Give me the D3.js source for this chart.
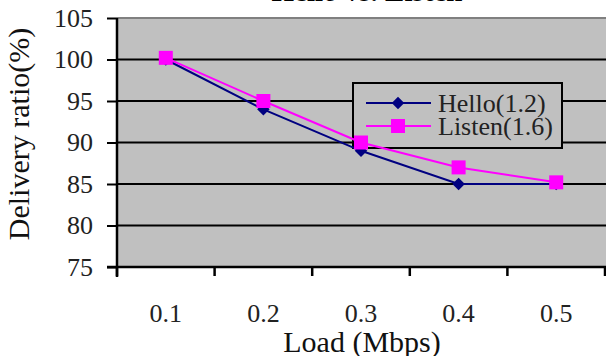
<!DOCTYPE html>
<html lang="en">
<head>
<meta charset="UTF-8">
<title>Hello vs. Listen</title>
<script src="https://cdn.jsdelivr.net/npm/d3@7"></script>
<style>
    body { margin: 0; background: #fff; }
    svg { display: block; }
</style>
</head>
<body>
<div id="chart"></div>
<script>
    // data
    var loads = ["0.1", "0.2", "0.3", "0.4", "0.5"];
    var hello = [100, 94, 89, 85, 85];
    var listen = [100.2, 95, 90, 87, 85.2];
    var yTicks = [75, 80, 85, 90, 95, 100, 105];
    var seriesNames = ["Hello(1.2)", "Listen(1.6)"];

    var FONT = "'Liberation Serif', Tinos, 'Times New Roman', Times, 'DejaVu Serif', serif";
    var W = 606, H = 356;
    var plotLeft = 117, plotRight = 605, plotTop = 18, plotBottom = 267;

    var svg = d3.select("#chart").append("svg")
        .attr("width", W)
        .attr("height", H)
        .style("font-family", FONT);

    var x = d3.scaleBand().domain(loads).range([plotLeft, plotRight]);
    var y = d3.scaleLinear().domain([75, 105]).range([plotBottom, plotTop]);

    // plot background
    svg.append("rect")
        .attr("x", plotLeft).attr("y", plotTop)
        .attr("width", W - plotLeft).attr("height", plotBottom - plotTop)
        .attr("fill", "#c0c0c0");

    // gridlines
    svg.append("g").selectAll("line")
        .data(yTicks.filter(function (d) { return d > 75; }))
        .enter().append("line")
        .attr("x1", plotLeft).attr("x2", W)
        .attr("y1", function (d) { return y(d); })
        .attr("y2", function (d) { return y(d); })
        .attr("stroke", function (d) { return d == 105 ? "#808080" : "#000"; })
        .attr("stroke-width", 2);

    // y axis
    var yAxis = svg.append("g")
        .attr("transform", "translate(" + plotLeft + ",0)")
        .call(d3.axisLeft(y).tickValues(yTicks).tickSize(10).tickPadding(14));
    yAxis.attr("font-family", null);
    yAxis.select(".domain").attr("stroke", "#000").attr("stroke-width", 2.5)
        .attr("d", "M0," + plotTop + "V" + (plotBottom + 10));
    yAxis.selectAll(".tick line").attr("stroke", "#000").attr("stroke-width", 2);
    yAxis.selectAll(".tick text")
        .style("font-family", FONT).attr("font-size", 26).attr("fill", "#222");

    // x axis, ticks on the band edges
    var xAxis = svg.append("g")
        .attr("transform", "translate(0," + plotBottom + ")")
        .call(d3.axisBottom(x).tickSize(0).tickPadding(37));
    xAxis.attr("font-family", null);
    xAxis.select(".domain").attr("stroke", "#000").attr("stroke-width", 2.5)
        .attr("d", "M" + (plotLeft - 10) + ",0H" + W);
    xAxis.selectAll(".tick text")
        .style("font-family", FONT).attr("font-size", 26).attr("fill", "#222");
    xAxis.selectAll(".edge")
        .data(loads.concat(["end"]))
        .enter().append("line")
        .attr("x1", function (d, i) { return plotLeft + i * x.step(); })
        .attr("x2", function (d, i) { return plotLeft + i * x.step(); })
        .attr("y1", 0).attr("y2", 9)
        .attr("stroke", "#000").attr("stroke-width", 2.5);

    // legend box (sits over the gridlines)
    var lg = svg.append("g").attr("transform", "translate(353,83)");
    lg.append("rect")
        .attr("width", 209).attr("height", 65)
        .attr("fill", "#c0c0c0").attr("stroke", "#000").attr("stroke-width", 2);

    // lines
    var line = d3.line()
        .x(function (d, i) { return x(loads[i]) + x.bandwidth() / 2; })
        .y(function (d) { return y(d); });

    svg.append("path").datum(hello)
        .attr("d", line).attr("fill", "none")
        .attr("stroke", "#000080").attr("stroke-width", 2);
    svg.append("path").datum(listen)
        .attr("d", line).attr("fill", "none")
        .attr("stroke", "#ff00ff").attr("stroke-width", 2);

    var diamond = d3.symbol().type(d3.symbolDiamond2).size(100);

    svg.append("g").selectAll("path")
        .data(hello).enter().append("path")
        .attr("d", diamond)
        .attr("transform", function (d, i) {
            return "translate(" + (x(loads[i]) + x.bandwidth() / 2) + "," + y(d) + ")";
        })
        .attr("fill", "#000080");

    svg.append("g").selectAll("rect")
        .data(listen).enter().append("rect")
        .attr("x", function (d, i) { return x(loads[i]) + x.bandwidth() / 2 - 7; })
        .attr("y", function (d) { return y(d) - 7; })
        .attr("width", 14).attr("height", 14)
        .attr("fill", "#ff00ff");

    // legend entries
    var colors = ["#000080", "#ff00ff"];
    seriesNames.forEach(function (name, i) {
        var gy = 20 + i * 23;
        lg.append("line")
            .attr("x1", 13).attr("x2", 78)
            .attr("y1", gy).attr("y2", gy)
            .attr("stroke", colors[i]).attr("stroke-width", 2);
        if (i == 0) {
            lg.append("path").attr("d", diamond)
                .attr("transform", "translate(45," + gy + ")")
                .attr("fill", colors[i]);
        } else {
            lg.append("rect")
                .attr("x", 38).attr("y", gy - 7)
                .attr("width", 14).attr("height", 14)
                .attr("fill", colors[i]);
        }
        lg.append("text")
            .attr("x", 85).attr("y", gy + 9)
            .attr("font-size", 26).attr("fill", "#222")
            .text(name);
    });

    // titles (the chart title is cut off by the top edge, as in the original)
    svg.append("text")
        .attr("x", 367).attr("y", 1)
        .attr("text-anchor", "middle")
        .attr("font-size", 29).attr("font-weight", "bold")
        .text("Hello vs. Listen");

    svg.append("text")
        .attr("x", 362).attr("y", 352)
        .attr("text-anchor", "middle")
        .attr("font-size", 30).attr("fill", "#111")
        .text("Load (Mbps)");

    svg.append("text")
        .attr("transform", "translate(29,134) rotate(-90)")
        .attr("text-anchor", "middle")
        .attr("font-size", 30).attr("fill", "#111")
        .text("Delivery ratio(%)");
</script>
</body>
</html>
